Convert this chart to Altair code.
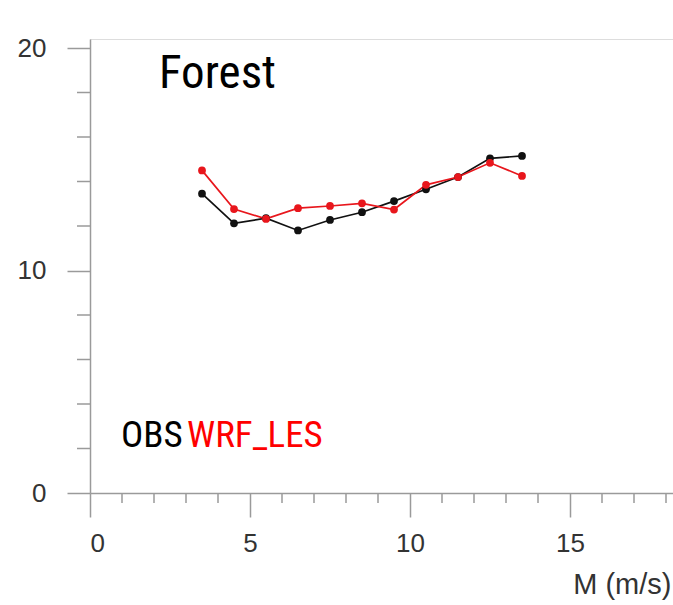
import altair as alt
import pandas as pd

# Wind speed bins (m/s)
wind = [3.5, 4.5, 5.5, 6.5, 7.5, 8.5, 9.5, 10.5, 11.5, 12.5, 13.5]
obs = [13.45, 12.12, 12.35, 11.8, 12.27, 12.62, 13.12, 13.65, 14.2, 15.04, 15.15]
wrf_les = [14.5, 12.76, 12.32, 12.8, 12.9, 13.02, 12.74, 13.85, 14.2, 14.84, 14.25]

series_names = ["OBS", "WRF_LES"]
series_colors = ["#111111", "#e8161c"]

df = pd.DataFrame(
    {"M": wind * 2,
     "value": obs + wrf_les,
     "series": ["OBS"] * len(wind) + ["WRF_LES"] * len(wind)}
)

x_major = [0, 5, 10, 15]
x_minor = [v for v in range(1, 19) if v % 5 != 0]
y_major = [0, 10, 20]
y_minor = [2, 4, 6, 8, 12, 14, 16, 18]

W, H = 583, 454
x_scale = alt.Scale(domain=[0, W / 32], nice=False, zero=False)
y_scale = alt.Scale(domain=[0, H / 22.25], nice=False, zero=False)

label_font = "Liberation Sans"
axis_gray = "#9a9a9a"
cond_font = "'Roboto Condensed', 'DejaVu Sans Condensed', 'Liberation Sans Narrow', Roboto, sans-serif"

color = alt.Color("series:N", scale=alt.Scale(domain=series_names, range=series_colors), legend=None)

x_axis = alt.Axis(values=x_major, tickSize=24, domainColor=axis_gray, tickColor=axis_gray,
                  domainWidth=1.5, tickWidth=1.5, grid=False, labelFont=label_font,
                  labelFontSize=26, labelColor="#333333", labelPadding=13,
                  title="M (m/s)", titleFont=label_font, titleFontSize=29,
                  titleFontWeight="normal", titleColor="#333333", titleAlign="right",
                  titleAnchor="end", titleX=W - 2, titleY=100, titleBaseline="alphabetic")
y_axis = alt.Axis(values=y_major, tickSize=23, domainColor=axis_gray, tickColor=axis_gray,
                  domainWidth=1.5, tickWidth=1.5, grid=False, labelFont=label_font,
                  labelFontSize=26, labelColor="#333333", labelPadding=21, title=None)

base = alt.Chart(df)

lines = base.mark_line(strokeWidth=1.7, clip=False).encode(
    x=alt.X("M:Q", scale=x_scale, axis=x_axis),
    y=alt.Y("value:Q", scale=y_scale, axis=y_axis),
    color=color,
    detail="series:N",
)
points = base.mark_circle(size=60, opacity=1).encode(
    x=alt.X("M:Q", scale=x_scale),
    y=alt.Y("value:Q", scale=y_scale),
    color=color,
)

# minor ticks
xminor_df = pd.DataFrame({"t": x_minor})
yminor_df = pd.DataFrame({"t": y_minor})
x_minor_ticks = alt.Chart(xminor_df).mark_rule(color=axis_gray, strokeWidth=1.5).encode(
    x=alt.X("t:Q", scale=x_scale),
    y=alt.value(H), y2=alt.value(H + 10),
)
y_minor_ticks = alt.Chart(yminor_df).mark_rule(color=axis_gray, strokeWidth=1.5).encode(
    y=alt.Y("t:Q", scale=y_scale),
    x=alt.value(-13), x2=alt.value(0),
)

title_txt = alt.Chart(pd.DataFrame({"t": ["Forest"]})).mark_text(
    font=cond_font, fontSize=47, align="left", baseline="alphabetic", color="#000000"
).encode(text="t:N", x=alt.value(69), y=alt.value(88 - 39))

obs_txt = alt.Chart(pd.DataFrame({"t": ["OBS"]})).mark_text(
    font=cond_font, fontSize=37, align="left", baseline="alphabetic", color="#000000"
).encode(text="t:N", x=alt.value(121 - 90), y=alt.value(447 - 39))

les_txt = alt.Chart(pd.DataFrame({"t": ["WRF_LES"]})).mark_text(
    font=cond_font, fontSize=37, align="left", baseline="alphabetic", color="#ff0000"
).encode(text="t:N", x=alt.value(187 - 90), y=alt.value(447 - 39))

chart = alt.layer(
    x_minor_ticks, y_minor_ticks, lines, points, title_txt, obs_txt, les_txt
).properties(
    width=W, height=H,
    autosize=alt.AutoSizeParams(type="none"),
    padding={"left": 90, "top": 39, "right": 0, "bottom": 112},
).configure_view(stroke=None).configure(background="white")

chart.save("out.html", embed_options={"renderer": "svg", "actions": False})
